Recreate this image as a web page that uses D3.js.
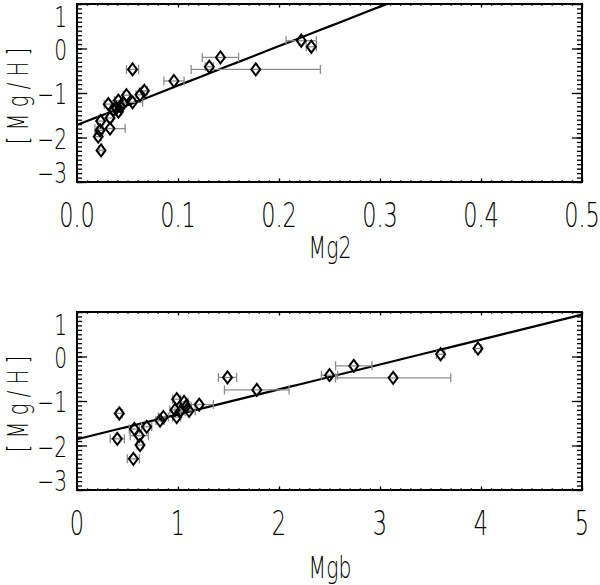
<!DOCTYPE html>
<html>
<head>
<meta charset="utf-8">
<script src="https://cdn.jsdelivr.net/npm/d3@7"></script>
<style>
  body { margin: 0; background: #fff; }
  svg text { font-family: "DejaVu Sans", sans-serif; font-weight: 200; fill: #000; }
</style>
</head>
<body>
<svg id="chart" width="600" height="585"></svg>
<script>
// Top panel: Mg2 index vs [Mg/H]
const mg2X    = [0.055, 0.096, 0.131, 0.142, 0.177, 0.222, 0.232, 0.0667, 0.0624, 0.055, 0.049, 0.041,
                 0.031, 0.046, 0.039, 0.041, 0.036, 0.0327, 0.0234, 0.0327, 0.0228, 0.021, 0.0238, 0.043];
const mg2Y    = [-0.47, -0.73, -0.41, -0.20, -0.47, 0.175, 0.04, -0.95, -1.04, -1.21, -1.05, -1.17,
                 -1.25, -1.23, -1.34, -1.42, -1.38, -1.56, -1.63, -1.80, -1.84, -1.98, -2.29, -1.30];
const mg2Err  = [0.006, 0.010, 0.004, 0.018, 0.064, 0.015, 0.005, 0.003, 0.004, 0.010, 0.003, 0.004,
                 0.004, 0.003, 0.003, 0.003, 0.003, 0.003, 0.003, 0.015, 0.003, 0.003, 0.002, 0.003];

// Bottom panel: Mgb index vs [Mg/H]
const mgbX    = [0.419, 0.399, 0.558, 0.568, 0.617, 0.624, 0.690, 0.822, 0.855, 0.987, 0.970, 0.987,
                 1.02, 1.06, 1.08, 1.11, 1.21, 1.49, 1.78, 2.50, 2.74, 3.13, 3.60, 3.97];
const mgbY    = [-1.28, -1.85, -2.30, -1.63, -1.78, -1.99, -1.58, -1.44, -1.36, -0.96, -1.20, -1.36,
                 -1.24, -1.02, -1.12, -1.22, -1.08, -0.47, -0.75, -0.42, -0.21, -0.48, 0.05, 0.18];
const mgbErr  = [0.03, 0.07, 0.06, 0.05, 0.09, 0.03, 0.05, 0.04, 0.05, 0.04, 0.05, 0.04,
                 0.05, 0.04, 0.05, 0.06, 0.14, 0.09, 0.32, 0.08, 0.18, 0.57, 0.04, 0.03];

// linear fits [intercept, slope]
const mg2Fit = [-1.72, 8.87];
const mgbFit = [-1.86, 0.56];

// ticks
const mg2Ticks  = [0, 0.1, 0.2, 0.3, 0.4, 0.5];
const mg2Labels = ["0.0", "0.1", "0.2", "0.3", "0.4", "0.5"];
const mgbTicks  = [0, 1, 2, 3, 4, 5];
const mgbLabels = ["0", "1", "2", "3", "4", "5"];
const mghTicks  = [-3, -2, -1, 0, 1];
const mghLabels = ["\u22123", "\u22122", "\u22121", "0", "1"];

const svg = d3.select("#chart");
const left = 77, right = 582;
const squeeze = 0.68;   // narrow, tall lettering like the original plot font

function drawPanel(cfg) {
  const x = d3.scaleLinear().domain(cfg.xDomain).range([left, right]);
  const y = d3.scaleLinear().domain([-3, 1]).range([cfg.bottom, cfg.top]);
  const w = right - left, h = cfg.bottom - cfg.top;
  const g = svg.append("g");

  const clipId = "clip" + cfg.top;
  g.append("clipPath").attr("id", clipId)
    .append("rect").attr("x", left).attr("y", cfg.top).attr("width", w).attr("height", h);

  // minor + major ticks, pointing inward, on all four sides
  const xMinor = d3.range(cfg.xDomain[0], cfg.xDomain[1] + 1e-9, cfg.xMinor);
  const yMinor = d3.range(-3, 1 + 1e-9, 0.1);
  const xMaj = 0.02 * h, yMaj = 0.02 * w;

  const axes = [
    [d3.axisBottom(x), xMinor, xMaj / 2, cfg.top],
    [d3.axisBottom(x), cfg.xTicks, xMaj, cfg.top],
    [d3.axisTop(x), xMinor, xMaj / 2, cfg.bottom],
    [d3.axisTop(x), cfg.xTicks, xMaj, cfg.bottom]
  ];
  axes.forEach(([ax, vals, len, ty]) => {
    g.append("g").attr("transform", `translate(0,${ty})`)
      .call(ax.tickValues(vals).tickSize(len).tickFormat(""))
      .call(s => s.select(".domain").remove())
      .selectAll("line").attr("stroke", "#000").attr("stroke-width", 1.3);
  });
  const yAxes = [
    [d3.axisRight(y), yMinor, yMaj / 2, left],
    [d3.axisRight(y), mghTicks, yMaj, left],
    [d3.axisLeft(y), yMinor, yMaj / 2, right],
    [d3.axisLeft(y), mghTicks, yMaj, right]
  ];
  yAxes.forEach(([ax, vals, len, tx]) => {
    g.append("g").attr("transform", `translate(${tx},0)`)
      .call(ax.tickValues(vals).tickSize(len).tickFormat(""))
      .call(s => s.select(".domain").remove())
      .selectAll("line").attr("stroke", "#000").attr("stroke-width", 1.3);
  });

  // frame
  g.append("rect").attr("x", left).attr("y", cfg.top).attr("width", w).attr("height", h)
    .attr("fill", "none").attr("stroke", "#000").attr("stroke-width", 2);

  // tick labels
  g.selectAll(".xl").data(cfg.xTicks).enter().append("text")
    .attr("transform", d => `translate(${x(d)},${cfg.bottom + 45}) scale(${squeeze},1)`)
    .attr("text-anchor", "middle").attr("font-size", 33)
    .text((d, i) => cfg.xLabels[i]);

  g.selectAll(".yl").data(mghTicks).enter().append("text")
    .attr("transform", d => {
      const ty = Math.min(Math.max(y(d), cfg.top + 12), cfg.bottom - 10) + 11;
      return `translate(67,${ty}) scale(0.72,1)`;
    })
    .attr("text-anchor", "end").attr("font-size", 28)
    .text((d, i) => mghLabels[i]);

  // axis titles
  g.append("text")
    .attr("transform", `translate(330,${cfg.bottom + cfg.titleGap}) scale(${squeeze},1)`)
    .attr("text-anchor", "middle").attr("font-size", 30).text(cfg.xTitle);
  g.append("text")
    .attr("transform", `translate(28,${(cfg.top + cfg.bottom) / 2}) rotate(-90) scale(${squeeze},1)`)
    .attr("text-anchor", "middle").attr("font-size", 29)
    .attr("letter-spacing", 9).text("[Mg/H]");

  const plot = g.append("g").attr("clip-path", `url(#${clipId})`);

  // fit line
  const fx = d3.range(cfg.xDomain[0], cfg.xDomain[1] + 1e-9, (cfg.xDomain[1] - cfg.xDomain[0]) / 50);
  plot.append("path").datum(fx)
    .attr("fill", "none").attr("stroke", "#000").attr("stroke-width", 2.2)
    .attr("d", d3.line().x(d => x(d)).y(d => y(cfg.fit[0] + cfg.fit[1] * d)));

  const pts = cfg.xs.map((v, i) => ({ x: v, y: cfg.ys[i], e: cfg.err[i] }));

  // horizontal error bars with caps
  const eb = plot.selectAll(".eb").data(pts).enter().append("g")
    .attr("stroke", "#8c8c8c").attr("stroke-width", 1.3);
  eb.append("line")
    .attr("x1", d => x(d.x - d.e)).attr("x2", d => x(d.x + d.e))
    .attr("y1", d => y(d.y)).attr("y2", d => y(d.y));
  eb.append("line")
    .attr("x1", d => x(d.x - d.e)).attr("x2", d => x(d.x - d.e))
    .attr("y1", d => y(d.y) - 4.5).attr("y2", d => y(d.y) + 4.5);
  eb.append("line")
    .attr("x1", d => x(d.x + d.e)).attr("x2", d => x(d.x + d.e))
    .attr("y1", d => y(d.y) - 4.5).attr("y2", d => y(d.y) + 4.5);

  // diamond markers
  plot.selectAll(".pt").data(pts).enter().append("path")
    .attr("transform", d => `translate(${x(d.x)},${y(d.y)})`)
    .attr("d", "M0,-6L4.5,0L0,6L-4.5,0Z")
    .attr("fill", "none").attr("stroke", "#000").attr("stroke-width", 2);
}

drawPanel({
  top: 4, bottom: 182, xDomain: [0, 0.5], xMinor: 0.01, titleGap: 76,
  xTicks: mg2Ticks, xLabels: mg2Labels, xTitle: "Mg2",
  xs: mg2X, ys: mg2Y, err: mg2Err, fit: mg2Fit
});
drawPanel({
  top: 312, bottom: 490, xDomain: [0, 5], xMinor: 0.1, titleGap: 88,
  xTicks: mgbTicks, xLabels: mgbLabels, xTitle: "Mgb",
  xs: mgbX, ys: mgbY, err: mgbErr, fit: mgbFit
});
</script>
</body>
</html>
